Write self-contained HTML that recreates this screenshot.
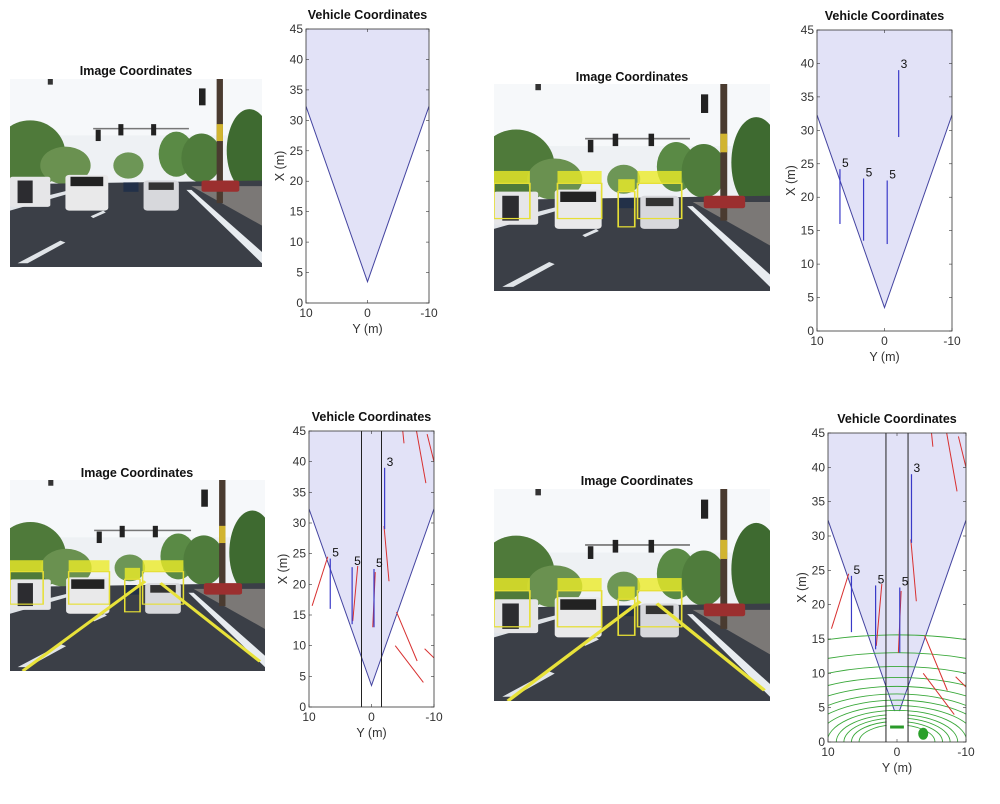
<!DOCTYPE html>
<html><head><meta charset="utf-8"><style>
html,body{margin:0;padding:0;background:#fff;width:1000px;height:804px;overflow:hidden}
svg{position:absolute;left:0;top:0;overflow:hidden}
text{font-family:"Liberation Sans",Arial,sans-serif}
</style></head><body>
<svg id="root" width="1000" height="804" viewBox="0 0 1000 804"></svg>
<script>
// ---- data ----
const xTicks = [10, 0, -10];
const yTicks = [0, 5, 10, 15, 20, 25, 30, 35, 40, 45];
const coverageY = [10, 0, -10];
const coverageX = [32.3, 3.5, 32.3];
const detY = [6.6, 3.1, -0.4, -2.1];
const detXStart = [16, 13.5, 13, 29];
const detXEnd = [24.2, 22.8, 22.5, 39];
const detLabels = ["5", "5", "5", "3"];
const laneY = [1.6, -1.6];
const radarY1 = [9.5, 3, -0.2, -2, -4, -3.8, -8.5, -5, -7.2, -8.9];
const radarX1 = [16.5, 14, 13, 29.5, 15.5, 10, 9.5, 45, 45, 44.5];
const radarY2 = [7, 2.2, -0.6, -2.8, -7.3, -8.3, -10, -5.2, -8.7, -10];
const radarX2 = [24.5, 23, 22, 20.5, 7.5, 4, 8, 43, 36.5, 40];
const lidarRadii = [2.5, 3, 3.5, 4, 4.6, 5.3, 6.1, 7, 8.1, 9.4, 11, 13, 15.6];

const NS = "http://www.w3.org/2000/svg";
const root = document.getElementById('root');
function el(tag, attrs, parent) {
  const e = document.createElementNS(NS, tag);
  for (const k in attrs) e.setAttribute(k, attrs[k]);
  (parent || root).appendChild(e);
  return e;
}

// ---- camera images ----
function scene(x, y, w, h, opts, idx) {
  const g = el('g', {});
  
  
  const s = el('svg', {x: x, y: y, width: w, height: h, viewBox: '0 0 100 100', preserveAspectRatio: 'none'}, g);
  el('rect', {x: 0, y: 0, width: 100, height: 100, fill: '#eef1f4'}, s);
  el('rect', {x: 0, y: 0, width: 100, height: 30, fill: '#f6f8fa'}, s);
  el('ellipse', {cx: 8, cy: 40, rx: 14, ry: 18, fill: '#4f7a3a'}, s);
  el('ellipse', {cx: 22, cy: 46, rx: 10, ry: 10, fill: '#6a9150'}, s);
  el('ellipse', {cx: 47, cy: 46, rx: 6, ry: 7, fill: '#6d9656'}, s);
  el('ellipse', {cx: 66, cy: 40, rx: 7, ry: 12, fill: '#5a8a45'}, s);
  el('ellipse', {cx: 76, cy: 42, rx: 8, ry: 13, fill: '#4f7c3c'}, s);
  el('ellipse', {cx: 95, cy: 38, rx: 9, ry: 22, fill: '#3e6a30'}, s);
  el('polygon', {points: '0,56 100,54 100,100 0,100', fill: '#3b3f47'}, s);
  el('polygon', {points: '72,57 100,57 100,78', fill: '#7b7876'}, s);
  el('polygon', {points: '0,67 24,59 26,60 0,70', fill: '#dfe3e8'}, s);
  el('polygon', {points: '70,59 72,59 100,92 100,98', fill: '#e8ecf0'}, s);
  el('polygon', {points: '3,98 20,86 22,87 7,98', fill: '#e0e4e8'}, s);
  el('polygon', {points: '32,73 37,70 38,71 33,74', fill: '#e0e4e8'}, s);
  el('rect', {x: 82, y: 0, width: 2.5, height: 66, fill: '#4a3b30'}, s);
  el('rect', {x: 82, y: 24, width: 2.5, height: 9, fill: '#d1b430'}, s);
  el('rect', {x: 33, y: 26, width: 38, height: 0.8, fill: '#777'}, s);
  el('rect', {x: 34, y: 27, width: 2, height: 6, fill: '#222'}, s);
  el('rect', {x: 43, y: 24, width: 2, height: 6, fill: '#222'}, s);
  el('rect', {x: 56, y: 24, width: 2, height: 6, fill: '#222'}, s);
  el('rect', {x: 75, y: 5, width: 2.6, height: 9, fill: '#222'}, s);
  el('rect', {x: 15, y: 0, width: 2, height: 3, fill: '#333'}, s);
  el('rect', {x: 76, y: 54, width: 15, height: 6, fill: '#9b2f2f', rx: 1}, s);
  el('rect', {x: 0, y: 52, width: 16, height: 16, fill: '#e6e6e8', rx: 1}, s);
  el('rect', {x: 3, y: 54, width: 6, height: 12, fill: '#2c2c30'}, s);
  el('rect', {x: 22, y: 51, width: 17, height: 19, fill: '#e9e9ea', rx: 1.5}, s);
  el('rect', {x: 24, y: 52, width: 13, height: 5, fill: '#222'}, s);
  el('rect', {x: 45, y: 55, width: 6, height: 5, fill: '#223048'}, s);
  el('rect', {x: 53, y: 54, width: 14, height: 16, fill: '#d7d8dc', rx: 1.5}, s);
  el('rect', {x: 55, y: 55, width: 10, height: 4, fill: '#333'}, s);
  if (opts.boxes) {
    const bx = [[0, 42, 13], [23, 42, 16], [45, 46, 6], [52, 42, 16]];
    bx.forEach(b => {
      el('rect', {x: b[0], y: b[1], width: b[2], height: 6, fill: 'rgba(235,235,40,0.8)'}, s);
      el('rect', {x: b[0], y: b[1] + 6, width: b[2], height: 17, fill: 'none', stroke: '#e6df35', 'stroke-width': 0.6}, s);
    });
  }
  if (opts.lanes) {
    el('line', {x1: 5, y1: 100, x2: 53, y2: 53, stroke: '#e8e23a', 'stroke-width': 1.4}, s);
    el('line', {x1: 59, y1: 54, x2: 98, y2: 95, stroke: '#e8e23a', 'stroke-width': 1.4}, s);
  }
}

function title(cx, y, txt, name) {
  const t = el('text', {x: cx, y: y, 'text-anchor': 'middle', 'font-size': 12.5, 'font-weight': 'bold', fill: '#111'});
  t.textContent = txt;
  
  
}

// ---- vehicle coordinate plots ----
function plot(L, R, T, B, opts, idx) {
  const g = el('g', {});
  
  
  const sx = v => L + (10 - v) / 20 * (R - L);
  const sy = v => B - v / 45 * (B - T);
  const clip = 'clip' + idx;
  const cp = el('clipPath', {id: clip}, g);
  el('rect', {x: L, y: T, width: R - L, height: B - T}, cp);
  const pg = el('g', {'clip-path': 'url(#' + clip + ')'}, g);
  let pts = sx(coverageY[0]) + ',' + sy(45) + ' ';
  for (let i = 0; i < coverageY.length; i++) pts += sx(coverageY[i]) + ',' + sy(coverageX[i]) + ' ';
  pts += sx(coverageY[coverageY.length - 1]) + ',' + sy(45);
  const cov = el('polygon', {points: pts, fill: '#e2e2f7', stroke: 'none'}, pg);
  
  
  const edge = el('polyline', {points: coverageY.map((v, i) => sx(v) + ',' + sy(coverageX[i])).join(' '), fill: 'none', stroke: '#4444a0', 'stroke-width': 1}, pg);
  
  
  if (opts.lidar) {
    lidarRadii.forEach(r => {
      const a = el('ellipse', {cx: sx(0), cy: sy(0), rx: (sx(0) - sx(r * 2.2)), ry: (sy(0) - sy(r)), fill: 'none', stroke: '#3aa83a', 'stroke-width': 0.9}, pg);
      
      
    });
    el('rect', {x: sx(1.5), y: sy(4.5), width: sx(-1.5) - sx(1.5), height: sy(0) - sy(4.5), fill: '#fff'}, pg);
    el('rect', {x: sx(1), y: sy(2.4), width: sx(-1) - sx(1), height: 3, fill: '#2a9a2a'}, pg);
    el('ellipse', {cx: sx(-3.8), cy: sy(1.2), rx: 5, ry: 6, fill: '#2aa02a'}, pg);
  }
  if (opts.lanes) {
    laneY.forEach(v => {
      const l = el('line', {x1: sx(v), y1: T, x2: sx(v), y2: B, stroke: '#222', 'stroke-width': 1}, pg);
      
      
    });
  }
  if (opts.radar) {
    radarY1.forEach((v, i) => {
      const l = el('line', {x1: sx(v), y1: sy(radarX1[i]), x2: sx(radarY2[i]), y2: sy(radarX2[i]), stroke: '#d83030', 'stroke-width': 1}, pg);
      
      
    });
  }
  if (opts.dets) {
    detY.forEach((v, i) => {
      const l = el('line', {x1: sx(v), y1: sy(detXStart[i]), x2: sx(v), y2: sy(detXEnd[i]), stroke: '#3a3ac8', 'stroke-width': 1.2}, pg);
      
      
      const t = el('text', {x: sx(v) + 2, y: sy(detXEnd[i]) - 2, 'font-size': 12, fill: '#111'}, g);
      t.textContent = detLabels[i];
      
      
    });
  }
  el('rect', {x: L, y: T, width: R - L, height: B - T, fill: 'none', stroke: '#333', 'stroke-width': 0.8}, g);
  yTicks.forEach(v => {
    el('line', {x1: L, y1: sy(v), x2: L + 3, y2: sy(v), stroke: '#333', 'stroke-width': 0.6}, g);
    el('line', {x1: R, y1: sy(v), x2: R - 3, y2: sy(v), stroke: '#333', 'stroke-width': 0.6}, g);
    const t = el('text', {x: L - 3, y: sy(v) + 4, 'text-anchor': 'end', 'font-size': 12, fill: '#333'}, g);
    t.textContent = v;
    
    
  });
  xTicks.forEach(v => {
    el('line', {x1: sx(v), y1: B, x2: sx(v), y2: B - 3, stroke: '#333', 'stroke-width': 0.6}, g);
    el('line', {x1: sx(v), y1: T, x2: sx(v), y2: T + 3, stroke: '#333', 'stroke-width': 0.6}, g);
    const t = el('text', {x: sx(v), y: B + 14, 'text-anchor': 'middle', 'font-size': 12, fill: '#333'}, g);
    t.textContent = v;
    
    
  });
  const xl = el('text', {x: (L + R) / 2, y: B + 30, 'text-anchor': 'middle', 'font-size': 12.5, fill: '#333'}, g);
  xl.textContent = 'Y (m)';
  
  
  const yx = L - 22, yy = (T + B) / 2;
  const yl = el('text', {x: yx, y: yy, 'text-anchor': 'middle', 'font-size': 12.5, fill: '#333', transform: 'rotate(-90 ' + yx + ' ' + yy + ')'}, g);
  yl.textContent = 'X (m)';
  
  
  title((L + R) / 2, T - 10, 'Vehicle Coordinates', 'plot-title');
}

title(136, 75, 'Image Coordinates', 'image-title');
scene(10, 79, 252, 188, {}, 1);
plot(306, 429, 29, 303, {}, 1);

title(632, 81, 'Image Coordinates', 'image-title');
scene(494, 84, 276, 207, {boxes: true}, 2);
plot(817, 952, 30, 331, {dets: true}, 2);

title(137, 477, 'Image Coordinates', 'image-title');
scene(10, 480, 255, 191, {boxes: true, lanes: true}, 3);
plot(309, 434, 431, 707, {dets: true, lanes: true, radar: true}, 3);

title(637, 485, 'Image Coordinates', 'image-title');
scene(494, 489, 276, 212, {boxes: true, lanes: true}, 4);
plot(828, 966, 433, 742, {dets: true, lanes: true, radar: true, lidar: true}, 4);
</script>
</body></html>
